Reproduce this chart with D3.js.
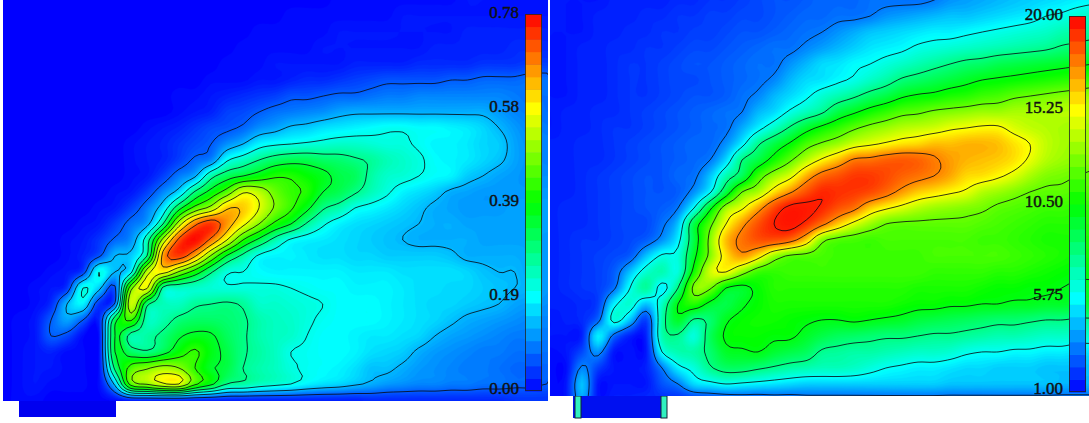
<!DOCTYPE html>
<html><head><meta charset="utf-8">
<script src="https://cdn.jsdelivr.net/npm/d3@7"></script>
<style>html,body{margin:0;padding:0;background:#fff}svg{display:block}text{font-family:"Liberation Serif",serif}</style>
</head><body><svg id="c" width="1089" height="423"></svg>
<script>
// Field values, percent of the colour scale on a regular lattice.
const leftRows = [
[0,0,0,0,0,0,0,0,0,0,0,0,0,0,0,0,0,0,0,0,0,1,1,1,1,1,1,1,1,2,2,2,2,2,2],
[0,0,0,0,0,0,0,0,0,0,0,0,0,0,0,0,0,0,1,1,1,1,1,1,1,2,2,2,2,2,2,2,2,2,2],
[0,0,0,0,0,0,0,0,0,0,0,0,0,0,0,0,1,1,1,1,1,2,2,2,2,2,2,2,2,3,3,3,3,3,3],
[0,0,0,0,0,0,0,0,0,0,0,0,0,0,0,1,1,1,1,1,2,2,2,2,2,2,2,3,3,3,3,3,4,4,4],
[0,0,0,0,0,0,0,0,0,0,0,0,0,0,1,1,1,2,2,2,2,2,3,3,3,3,4,4,4,4,5,5,5,6,6],
[0,0,0,0,0,0,0,0,0,0,0,0,0,1,1,1,2,2,3,4,4,5,6,7,8,8,8,8,9,9,10,10,10,11,11],
[0,0,0,0,0,0,0,0,0,0,0,1,1,2,3,4,5,6,8,8,9,10,10,11,12,12,13,13,13,13,13,13,12,11,11],
[0,0,0,0,0,0,0,0,0,0,0,1,2,3,6,7,9,11,12,13,14,16,17,17,17,17,17,17,17,17,17,15,13,12,11],
[0,0,0,0,0,0,0,0,0,1,2,3,5,7,8,10,14,16,19,20,22,23,24,25,26,26,25,25,24,23,21,18,15,13,12],
[0,0,0,0,0,0,0,0,1,2,3,5,7,9,14,18,24,26,27,28,29,30,30,29,28,28,26,24,24,23,21,20,16,14,13],
[0,0,0,0,0,0,0,0,1,2,3,6,10,13,26,31,36,40,42,42,40,39,37,35,32,30,28,25,24,23,21,19,16,14,13],
[0,0,0,0,0,0,0,0,1,2,6,12,17,33,41,45,49,53,53,50,47,43,41,34,30,29,27,25,24,20,18,16,15,14,14],
[0,0,0,0,0,0,0,1,2,6,13,21,37,48,58,71,68,60,55,53,45,42,37,32,28,24,22,20,17,16,15,15,15,15,15],
[0,0,0,0,0,0,1,2,6,12,22,42,57,66,80,80,72,62,55,47,37,33,27,25,23,21,19,17,16,15,15,15,16,16,16],
[0,0,0,0,0,1,2,6,11,16,36,68,88,95,85,74,63,52,45,35,28,24,22,21,20,19,18,17,17,16,16,16,16,16,16],
[0,0,0,0,1,2,5,10,14,32,66,92,99,88,72,54,43,33,26,24,23,22,21,20,19,18,17,17,17,17,16,16,16,16,15],
[0,0,0,0,1,3,8,18,20,36,84,94,82,62,44,34,26,24,24,23,22,22,21,21,20,20,20,20,19,17,17,17,17,16,15],
[0,0,0,1,2,6,27,18,25,68,75,62,50,37,28,27,25,24,24,24,24,24,23,23,23,22,22,22,22,21,19,18,18,16,15],
[0,0,1,2,5,27,20,8,60,73,34,31,30,29,28,28,28,28,27,26,25,25,24,24,24,23,22,22,21,21,20,19,18,17,15],
[0,0,1,4,18,24,5,10,70,38,32,31,35,36,37,35,30,30,29,28,27,25,25,25,24,23,22,21,21,20,19,18,16,15,14],
[0,1,2,9,16,9,3,42,55,32,33,38,40,40,39,37,33,31,30,28,26,25,25,25,24,23,22,21,19,17,16,15,14,13,13],
[0,1,2,9,7,1,1,45,33,34,38,44,47,46,41,37,33,31,30,27,25,25,24,23,23,22,21,18,16,15,14,13,12,12,12],
[0,1,2,3,1,1,1,45,40,37,42,50,55,48,43,37,34,31,27,26,25,25,24,22,21,20,17,15,14,13,12,12,11,11,11],
[0,1,2,2,1,1,1,38,57,62,66,63,54,46,43,36,33,31,28,26,25,24,22,19,19,17,15,14,13,12,12,11,10,10,10],
[0,1,2,1,1,1,1,20,58,64,71,72,56,47,36,34,31,29,27,24,22,21,19,17,15,14,13,13,12,12,11,11,10,10,9],
[0,1,1,0,0,0,0,1,3,3,3,3,3,3,3,3,3,3,3,3,3,3,3,4,4,4,4,4,4,4,4,4,5,5,5]
];
const rightRows = [
[2,2,2,2,3,3,3,3,4,4,5,5,6,7,8,8,9,10,10,10,11,11,11,11,12,14,15,16,17,18,19,20,21,22,23],
[2,2,2,3,3,3,4,4,5,5,6,6,7,7,8,9,10,10,11,11,12,14,15,16,17,18,18,19,20,21,22,24,25,27,28],
[2,2,2,3,3,4,4,5,5,6,6,7,8,8,9,10,11,12,14,16,18,19,20,21,22,22,23,24,25,26,27,28,30,31,32],
[2,2,3,3,4,4,5,5,6,7,7,8,9,10,11,11,13,15,17,19,21,22,23,25,26,27,28,29,30,31,32,33,35,36,37],
[2,2,3,3,4,5,5,6,7,8,8,9,10,11,11,14,17,20,21,23,24,26,28,30,32,34,36,37,39,40,41,42,43,44,45],
[2,2,3,3,4,5,5,6,7,7,8,9,10,11,13,17,20,21,23,25,28,31,35,37,39,41,43,45,46,47,48,49,50,51,52],
[2,2,3,3,4,5,5,6,7,8,8,9,11,13,17,20,23,27,30,33,37,40,44,46,47,49,50,52,53,55,56,57,58,59,60],
[2,3,3,4,4,5,6,7,8,9,10,11,12,17,20,25,29,33,40,44,48,51,54,55,57,58,59,60,60,61,61,61,62,62,62],
[2,3,3,4,5,5,6,7,8,9,10,11,16,22,28,35,42,47,51,55,58,60,62,63,64,66,67,68,68,65,63,62,61,60,60],
[3,3,4,4,5,6,7,8,9,10,10,14,22,33,40,46,53,57,60,64,66,68,70,71,73,73,74,74,73,70,67,63,61,60,60],
[3,3,4,4,5,6,7,8,9,10,12,20,34,40,48,55,62,68,73,79,80,82,83,82,79,76,74,73,72,70,66,62,60,59,58],
[3,3,4,5,6,7,8,8,10,11,18,30,38,52,60,65,74,81,84,87,87,85,82,80,78,75,71,70,68,65,61,58,57,56,55],
[3,3,4,5,6,7,8,8,9,14,23,40,56,61,70,77,84,89,88,87,85,81,76,72,70,68,66,62,60,58,56,55,55,54,54],
[3,4,4,5,6,7,8,9,12,24,43,60,66,75,85,92,92,89,84,80,72,68,65,62,60,59,58,57,55,54,53,52,52,51,51],
[3,4,4,5,6,7,7,11,18,40,54,67,76,84,90,93,88,80,72,65,60,56,55,55,55,55,55,54,53,52,51,50,50,50,50],
[3,4,5,5,6,7,9,14,22,40,58,73,80,84,84,81,72,58,54,53,52,53,53,53,53,53,53,52,52,51,50,49,49,49,49],
[3,4,5,6,7,9,18,25,26,43,58,70,76,70,60,55,54,53,52,52,52,52,52,52,53,53,53,53,53,52,51,50,49,48,48],
[3,4,5,6,9,18,27,30,26,48,64,67,59,52,51,52,52,52,52,52,52,52,52,52,51,51,51,51,50,50,49,48,47,46,46],
[3,4,5,6,11,24,32,22,34,58,57,45,43,47,50,50,50,50,50,50,50,50,50,49,49,49,49,48,47,47,46,46,45,44,44],
[3,3,4,6,22,27,18,28,45,50,43,40,44,47,49,49,49,49,49,49,49,49,48,47,47,46,46,45,45,44,44,43,43,42,42],
[2,3,4,10,26,18,6,30,43,33,36,44,47,48,48,47,46,45,45,46,45,44,43,41,40,39,38,37,36,36,35,34,34,33,33],
[2,2,3,22,10,3,3,30,33,26,38,46,47,47,46,46,43,40,38,37,36,35,35,34,33,33,32,31,30,30,29,28,28,27,27],
[1,2,7,14,2,2,2,24,30,31,36,43,44,45,42,40,38,33,32,31,31,30,29,28,28,27,25,24,24,23,23,22,22,21,21],
[1,1,13,6,2,2,3,12,22,26,33,37,37,35,33,31,30,29,29,28,26,24,23,22,22,21,20,20,19,19,19,18,18,18,18],
[1,2,18,2,2,2,2,8,12,20,22,24,23,22,21,20,19,19,19,19,19,19,19,19,19,18,18,18,18,18,18,18,17,17,17],
[1,2,16,2,3,3,4,4,4,5,6,7,8,8,9,9,10,10,10,10,10,10,10,10,10,10,10,10,10,10,10,10,10,10,10]
];
const leftLevels = [9,18,27,36,45,54,63,72,81,90];
const rightLevels = [12,24,34,45,56,67,78,90];
const leftTicks = ["0.00","0.19","0.39","0.58","0.78"];
const rightTicks = ["1.00","5.75","10.50","15.25","20.00"];
const rampStops = [0,25,50,75,100];
const rampColors = ["#0000ff","#00ffff","#00ff00","#ffff00","#ff0000"];
// how the right field's lattice readings line up with the colour ramp
const rightReadings = [0,12,24,34,45,56,67,78,90,100];
const rightRamp = [0,12,26,37,48,60,74,87,97,100];

const color = d3.scaleLinear().domain(rampStops).range(rampColors).interpolate(d3.interpolateRgb).clamp(true);
const svg = d3.select("#c");
const defs = svg.append("defs");
const CELL = 16, FINE = 4;

// Smooth resampling of the lattice for drawing (Catmull-Rom in both directions).
function resample(rows,k){
  const m = rows[0].length, n = rows.length;
  const cr = (a,b,c,d,t)=>b+0.5*t*(c-a+t*(2*a-5*b+4*c-d+t*(3*(b-c)+d-a)));
  const at = (i,j)=>rows[Math.max(0,Math.min(n-1,j))][Math.max(0,Math.min(m-1,i))];
  const fm = (m-1)*k+1, fn = (n-1)*k+1, out = new Float64Array(fm*fn);
  for(let fj=0;fj<fn;fj++){
    const j = Math.min(n-2,Math.floor(fj/k)), v = fj/k-j;
    for(let fi=0;fi<fm;fi++){
      const i = Math.min(m-2,Math.floor(fi/k)), u = fi/k-i;
      const col = [-1,0,1,2].map(d=>cr(at(i-1,j+d),at(i,j+d),at(i+1,j+d),at(i+2,j+d),u));
      out[fj*fm+fi] = cr(col[0],col[1],col[2],col[3],v);
    }
  }
  return {values:out,fm,fn};
}

function panel(id, rows, levels, ticks, box, bar, labelX, toRamp){
  const {values,fm,fn} = resample(rows,FINE);
  const x = d3.scaleLinear().domain([.5,fm-.5]).range([box.x, box.x+CELL*(fm-1)/FINE]);
  const y = d3.scaleLinear().domain([.5,fn-.5]).range([box.y, box.y+CELL*(fn-1)/FINE]);
  defs.append("clipPath").attr("id",id).append("rect")
    .attr("x",box.x).attr("y",box.y).attr("width",box.w).attr("height",box.h);
  const g = svg.append("g").attr("clip-path",`url(#${id})`);
  g.append("rect").attr("x",box.x).attr("y",box.y).attr("width",box.w).attr("height",box.h).attr("fill",color(0));
  const proj = d3.geoTransform({point(a,b){this.stream.point(x(a),y(b));}});
  const geo = d3.geoPath(proj);
  const contours = d3.contours().size([fm,fn]).smooth(true);
  const fills = d3.range(0.5,100,.75);
  g.selectAll("path.f").data(fills).join("path").attr("class","f")
    .attr("d",t=>geo(contours.contour(values,t)))
    .attr("fill",t=>color(toRamp(t+.4))).attr("stroke",t=>color(toRamp(t+.4))).attr("stroke-width",.3);
  g.selectAll("path.l").data(levels).join("path").attr("class","l")
    .attr("d",t=>geo(contours.contour(values,t+.02)))
    .attr("fill","none").attr("stroke","#0a0a14").attr("stroke-opacity",.82).attr("stroke-width",1);
  // colour bar
  const barY = d3.scaleLinear().domain([0,100]).range([bar.y+bar.h,bar.y]);
  const step = 100/30;
  svg.selectAll(null).data(d3.range(0,100,step)).join("rect")
    .attr("x",bar.x).attr("width",bar.w)
    .attr("y",s=>barY(s+step)).attr("height",s=>barY(s)-barY(s+step)+.5)
    .attr("fill",s=>color(s+step/2));
  svg.append("rect").attr("x",bar.x+.5).attr("y",bar.y+.5).attr("width",bar.w-1).attr("height",bar.h-1)
    .attr("fill","none").attr("stroke","#222").attr("stroke-opacity",.8);
  const tickY = d3.scalePoint().domain(ticks).range([bar.labelBottom,bar.labelTop]);
  svg.selectAll(null).data(ticks).join("text")
    .attr("x",labelX).attr("y",d=>tickY(d)).attr("dy","0.33em").attr("text-anchor","end")
    .attr("font-size",17).attr("fill","#111").attr("stroke","#111").attr("stroke-width",.45).text(d=>d);
}

// blue stubs under the panels
svg.append("rect").attr("x",19).attr("y",400).attr("width",97).attr("height",17).attr("fill","#0000f0");
svg.append("rect").attr("x",573).attr("y",395).attr("width",94).attr("height",23).attr("fill","#0010f0");
[[575,581],[661,667]].forEach(([a,b])=>{
  svg.append("rect").attr("x",a).attr("y",396).attr("width",b-a).attr("height",22).attr("fill","#30f0c0")
    .attr("stroke","#123").attr("stroke-width",1);
});

panel("p1",leftRows,leftLevels,leftTicks,{x:3,y:0,w:545,h:401},{x:525,y:14,w:17,h:377,labelBottom:388,labelTop:12},519,v=>v);
const rightMap = d3.scaleLinear().domain(rightReadings).range(rightRamp);
panel("p2",rightRows,rightLevels,rightTicks,{x:550,y:0,w:539,h:396},{x:1069,y:16,w:17,h:376,labelBottom:388,labelTop:14},1063,rightMap);
</script></body></html>
